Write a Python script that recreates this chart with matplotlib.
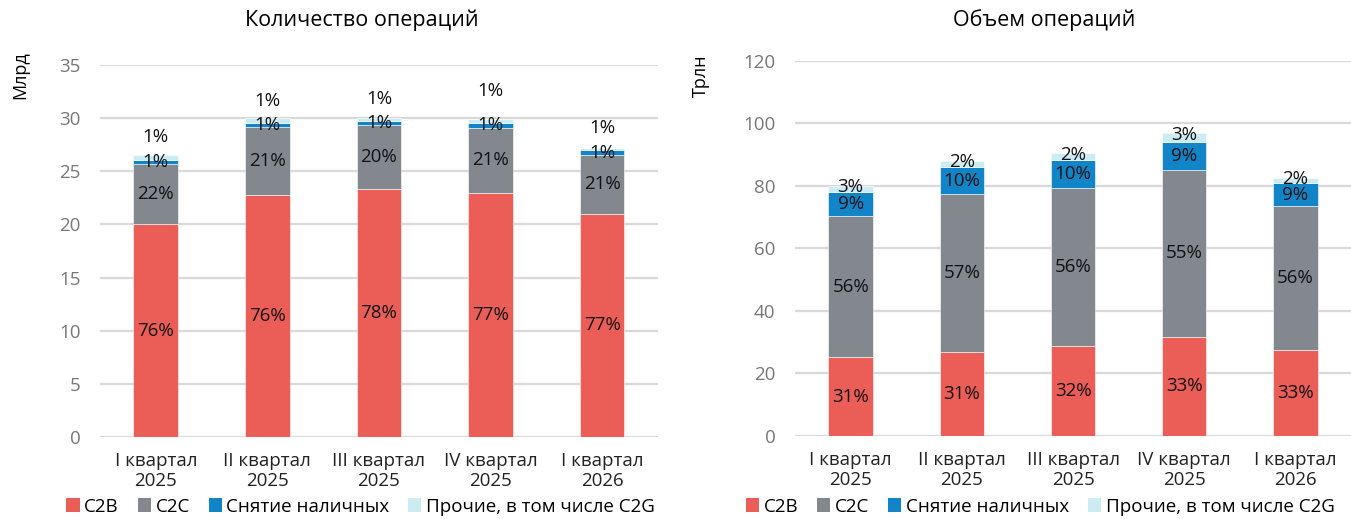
import numpy as np
import matplotlib
matplotlib.use('Agg')
from matplotlib import pyplot as plt
from matplotlib.patches import Patch

plt.rcParams['font.family'] = ['Open Sans', 'DejaVu Sans']

quarters = ['I квартал\n2025', 'II квартал\n2025', 'III квартал\n2025',
            'IV квартал\n2025', 'I квартал\n2026']
series = ['C2B', 'C2C', 'Снятие наличных', 'Прочие, в том числе C2G']
colors = ['#EB5E57', '#82888E', '#1185C8', '#CDEBF2']

# количество операций, млрд
cnt_c2b = [20.0, 22.8, 23.3, 22.95, 21.0]
cnt_c2c = [5.7, 6.35, 6.0, 6.15, 5.55]
cnt_cash = [0.4, 0.4, 0.4, 0.4, 0.4]
cnt_other = [0.4, 0.45, 0.3, 0.4, 0.25]
cnt_lbl = [['76%', '76%', '78%', '77%', '77%'],
           ['22%', '21%', '20%', '21%', '21%'],
           ['1%', '1%', '1%', '1%', '1%'],
           ['1%', '1%', '1%', '1%', '1%']]

# объем операций, трлн
vol_c2b = [25.2, 27.0, 28.9, 31.7, 27.4]
vol_c2c = [45.2, 50.4, 50.5, 53.4, 46.2]
vol_cash = [7.6, 8.6, 8.8, 9.0, 7.3]
vol_other = [2.1, 2.0, 2.2, 2.8, 1.6]
vol_lbl = [['31%', '31%', '32%', '33%', '33%'],
           ['56%', '57%', '56%', '55%', '56%'],
           ['9%', '10%', '10%', '9%', '9%'],
           ['3%', '2%', '2%', '3%', '2%']]

# подписи "прочих" на левом графике подняты над столбцом
cnt_other_dy = [1.7, 1.6, 1.8, 2.6, 1.85]


def draw(ax, segs, labels, ymax, step, other_dy=None):
  x = np.arange(len(quarters))
  bottom = np.zeros(len(quarters))
  for i, seg in enumerate(segs):
    seg = np.array(seg)
    ax.bar(x, seg, 0.4, bottom=bottom, color=colors[i],
           edgecolor='white', linewidth=0.4, zorder=3)
    for j in range(len(x)):
      y = bottom[j] + seg[j] / 2
      if i == 3:
        y = bottom[j] + seg[j] + other_dy[j] if other_dy else bottom[j] + seg[j] * 0.8
      ax.text(x[j], y, labels[i][j], ha='center', va='center',
              fontsize=13.5, color='#111111', zorder=4)
    bottom += seg
  ax.set_xlim(-0.5, len(quarters) - 0.5)
  ax.set_ylim(0, ymax)
  ax.set_yticks(np.arange(0, ymax + 0.1, step))
  ax.set_xticks(x)
  ax.set_xticklabels(quarters, fontsize=13.5, color='#222222', linespacing=1.15)
  ax.yaxis.grid(True, color='#D9D9D9', linewidth=1.6, zorder=0)
  ax.tick_params(axis='y', length=0, pad=14, labelsize=13.5, labelcolor='#777777')
  ax.tick_params(axis='x', length=0, pad=11)
  for s in ax.spines.values():
    s.set_visible(False)


fig = plt.figure(figsize=(13.51, 5.19), dpi=100)
ax1 = fig.add_axes([0.074, 0.158, 0.413, 0.717])
ax2 = fig.add_axes([0.5885, 0.16, 0.4115, 0.7225])

draw(ax1, [cnt_c2b, cnt_c2c, cnt_cash, cnt_other], cnt_lbl, 35, 5, cnt_other_dy)
draw(ax2, [vol_c2b, vol_c2c, vol_cash, vol_other], vol_lbl, 120, 20)

fig.text(0.268, 0.961, 'Количество операций', ha='center', va='center', fontsize=15.5)
fig.text(0.773, 0.961, 'Объем операций', ha='center', va='center', fontsize=15.5)
fig.text(0.015, 0.855, 'Млрд', rotation=90, ha='center', va='center', fontsize=13)
fig.text(0.519, 0.855, 'Трлн', rotation=90, ha='center', va='center', fontsize=13)

handles = [Patch(facecolor=c, edgecolor='none') for c in colors]
for cx in [0.267, 0.77]:
  fig.legend(handles, series, loc='center', bbox_to_anchor=(cx, 0.024), ncol=4,
             frameon=False, fontsize=13.5, handlelength=0.7, handleheight=0.7,
             handletextpad=0.25, columnspacing=1.0, borderpad=0)

plt.savefig('out.png', dpi=100)
